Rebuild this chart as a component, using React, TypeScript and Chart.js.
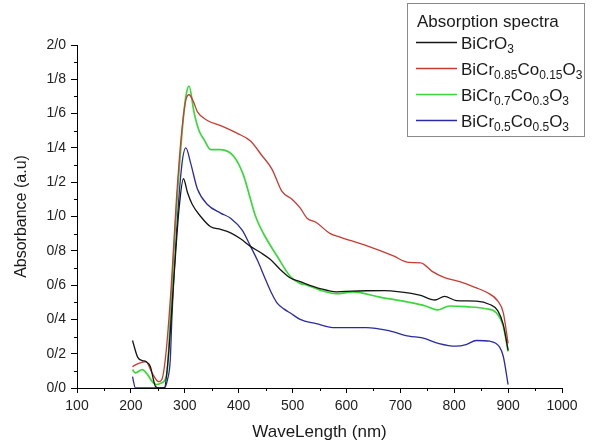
import { useEffect, useRef } from "react";
import { Chart, registerables } from "chart.js";

Chart.register(...registerables);

// Wavelength (nm) / absorbance pairs
const bicro3: [number, number][] = [
  [203, 0.277], [212.5, 0.18], [221, 0.16], [228, 0.154], [236, 0.125], [245.5, 0.01], [252.5, 0], [262, 0],
  [270, 0.2], [280, 0.65], [289.5, 1.05], [297.5, 1.22], [305, 1.14], [314, 1.07], [329.5, 1.0], [348, 0.94],
  [366.5, 0.925], [385, 0.905], [403.5, 0.87], [422, 0.826], [440.5, 0.79], [459, 0.749], [477.5, 0.69],
  [496, 0.641], [514, 0.62], [551, 0.58], [581, 0.561], [610, 0.565], [637, 0.567], [670, 0.568], [699, 0.561],
  [736, 0.542], [764, 0.513], [782, 0.534], [804, 0.51], [841, 0.507], [866, 0.487], [881, 0.45], [891, 0.37],
  [900, 0.22],
];

const co015: [number, number][] = [
  [203, 0.125], [214.5, 0.144], [228, 0.154], [239, 0.09], [251.5, 0.037], [257.5, 0.05], [265, 0.2], [275, 0.6],
  [284.5, 1.1], [294.5, 1.5], [302, 1.68], [308, 1.71], [316, 1.67], [323.5, 1.61], [342, 1.56], [366.5, 1.53],
  [397.5, 1.485], [422, 1.44], [442, 1.36], [462, 1.275], [480, 1.148], [499, 1.1], [514, 1.05], [527, 0.99],
  [544, 0.965], [570, 0.9], [588, 0.88], [637, 0.83], [686, 0.772], [716, 0.732], [738, 0.73], [759, 0.68],
  [781, 0.645], [810, 0.62], [840, 0.585], [859, 0.56], [881, 0.507], [891, 0.44], [900, 0.26],
];

const co03: [number, number][] = [
  [203, 0.107], [208.5, 0.088], [221, 0.107], [231, 0.078], [239, 0.04], [247.5, 0.02], [257.5, 0.03], [267, 0.086],
  [273, 0.4], [282.5, 0.94], [295.5, 1.51], [302, 1.7], [308, 1.76], [317, 1.61], [326.5, 1.5], [335.5, 1.45],
  [348, 1.39], [366.5, 1.39], [391, 1.35], [409, 1.24], [422, 1.1], [431.5, 1.0], [447, 0.895], [471.5, 0.768],
  [496, 0.65], [514, 0.61], [527, 0.6], [551, 0.571], [581, 0.55], [612, 0.56], [662, 0.53], [716, 0.5],
  [747, 0.478], [769, 0.455], [791, 0.478], [822, 0.474], [859, 0.462], [878, 0.439], [891, 0.36], [900, 0.214],
];

const co05: [number, number][] = [
  [203, 0.066], [208.5, 0], [262, 0], [268, 0.05], [273, 0.16], [276, 0.4], [284.5, 0.9], [294.5, 1.3],
  [302, 1.4], [311, 1.31], [323.5, 1.16], [342, 1.07], [366.5, 1.02], [385, 0.99], [406.5, 0.92], [422, 0.826],
  [435.5, 0.74], [447.5, 0.65], [460, 0.56], [471.5, 0.495], [484.5, 0.46], [496, 0.437], [514, 0.4], [544, 0.375],
  [575, 0.352], [637, 0.352], [680, 0.333], [716, 0.302], [741, 0.292], [772, 0.259], [803, 0.244], [822, 0.253],
  [841, 0.277], [866, 0.273], [884, 0.24], [891, 0.185], [900, 0.02],
];

const seriesData = [bicro3, co015, co03, co05];
const seriesLabels = ["BiCrO_3", "BiCr_0.85Co_0.15O_3", "BiCr_0.7Co_0.3O_3", "BiCr_0.5Co_0.5O_3"];
const seriesColors = ["#151515", "#c83a32", "#3ad83a", "#2a2aa2"];
const seriesWidths = [1.3, 1.3, 1.7, 1.3];
const legendTitle = "Absorption spectra";
const xTitle = "WaveLength (nm)";
const yTitle = "Absorbance (a.u)";

const FONT = "'Liberation Sans', Arial, sans-serif";

function parseLabel(s: string): { t: string; sub: boolean }[] {
  const out: { t: string; sub: boolean }[] = [];
  const re = /_([0-9.]+)|([^_]+)/g;
  let m: RegExpExecArray | null;
  while ((m = re.exec(s))) {
    if (m[1] !== undefined) out.push({ t: m[1], sub: true });
    else out.push({ t: m[2], sub: false });
  }
  return out;
}

const extrasPlugin = {
  id: "extras",
  afterDraw(chart: any) {
    const ctx = chart.ctx as CanvasRenderingContext2D;
    const xs = chart.scales.x;
    const ys = chart.scales.y;
    const { left, bottom } = chart.chartArea;
    ctx.save();
    ctx.strokeStyle = "#000";
    ctx.lineWidth = 1;
    // minor ticks
    for (let v = 0.1; v < 2.0; v += 0.2) {
      const py = Math.round(ys.getPixelForValue(v)) + 0.5;
      ctx.beginPath();
      ctx.moveTo(left - 3, py);
      ctx.lineTo(left, py);
      ctx.stroke();
    }
    for (let v = 150; v < 1000; v += 100) {
      const px = Math.round(xs.getPixelForValue(v)) + 0.5;
      ctx.beginPath();
      ctx.moveTo(px, bottom);
      ctx.lineTo(px, bottom + 3);
      ctx.stroke();
    }
    // legend box
    const bx = 407.5, by = 3.5, bw = 177, bh = 133;
    ctx.strokeStyle = "#8a8a8a";
    ctx.strokeRect(bx, by, bw, bh);
    ctx.fillStyle = "#1a1a1a";
    ctx.textBaseline = "alphabetic";
    ctx.font = `17px ${FONT}`;
    ctx.fillText(legendTitle, 417, 27);
    const rowY = [42.5, 68.5, 94.5, 120.5];
    seriesLabels.forEach((lab, i) => {
      const y = rowY[i];
      ctx.strokeStyle = seriesColors[i];
      ctx.lineWidth = seriesWidths[i];
      ctx.beginPath();
      ctx.moveTo(416, y);
      ctx.lineTo(457, y);
      ctx.stroke();
      let x = 461;
      const base = y + 6;
      parseLabel(lab).forEach((seg) => {
        if (seg.sub) {
          ctx.font = `12px ${FONT}`;
          ctx.fillText(seg.t, x, base + 4);
        } else {
          ctx.font = `17px ${FONT}`;
          ctx.fillText(seg.t, x, base);
        }
        x += ctx.measureText(seg.t).width;
      });
    });
    ctx.restore();
  },
};

export default function App() {
  const ref = useRef<HTMLCanvasElement | null>(null);
  useEffect(() => {
    if (!ref.current) return;
    const chart = new Chart(ref.current, {
      type: "line",
      data: {
        datasets: seriesData.map((d, i) => ({
          label: seriesLabels[i],
          data: d.map(([x, y]) => ({ x, y })),
          borderColor: seriesColors[i],
          backgroundColor: seriesColors[i],
          borderWidth: seriesWidths[i],
          pointRadius: 0,
          cubicInterpolationMode: "monotone" as const,
          fill: false,
        })),
      },
      options: {
        animation: false,
        responsive: true,
        maintainAspectRatio: false,
        layout: { padding: { top: 45, right: 33, left: 0, bottom: 0 } },
        plugins: { legend: { display: false }, tooltip: { enabled: false } },
        scales: {
          x: {
            type: "linear",
            min: 100,
            max: 1000,
            afterFit: (s: any) => {
              s.height = 57;
            },
            ticks: {
              stepSize: 100,
              autoSkip: false,
              maxRotation: 0,
              color: "#222",
              padding: 5,
              font: { size: 14, family: FONT },
              callback: (v: any) => String(v),
            },
            grid: { drawOnChartArea: false, drawTicks: true, tickLength: 5, color: "#000", lineWidth: 1 },
            border: { display: true, color: "#000", width: 1 },
            title: {
              display: true,
              text: xTitle,
              color: "#1a1a1a",
              font: { size: 17, family: FONT },
              padding: { top: 0, bottom: 2 },
            },
          },
          y: {
            type: "linear",
            min: 0,
            max: 2,
            afterFit: (s: any) => {
              s.width = 77;
            },
            ticks: {
              stepSize: 0.2,
              color: "#222",
              padding: 5,
              font: { size: 14, family: FONT },
              callback: (v: any) => Number(v).toFixed(1).replace(".", "/"),
            },
            grid: { drawOnChartArea: false, drawTicks: true, tickLength: 6, color: "#000", lineWidth: 1 },
            border: { display: true, color: "#000", width: 1 },
            title: {
              display: true,
              text: yTitle,
              color: "#1a1a1a",
              font: { size: 16, family: FONT },
              padding: { top: 12, bottom: 0 },
            },
          },
        },
      },
      plugins: [extrasPlugin],
    });
    return () => chart.destroy();
  }, []);
  return (
    <div style={{ position: "fixed", left: 0, top: 0, width: 595, height: 445, background: "#fff" }}>
      <canvas ref={ref} />
    </div>
  );
}
